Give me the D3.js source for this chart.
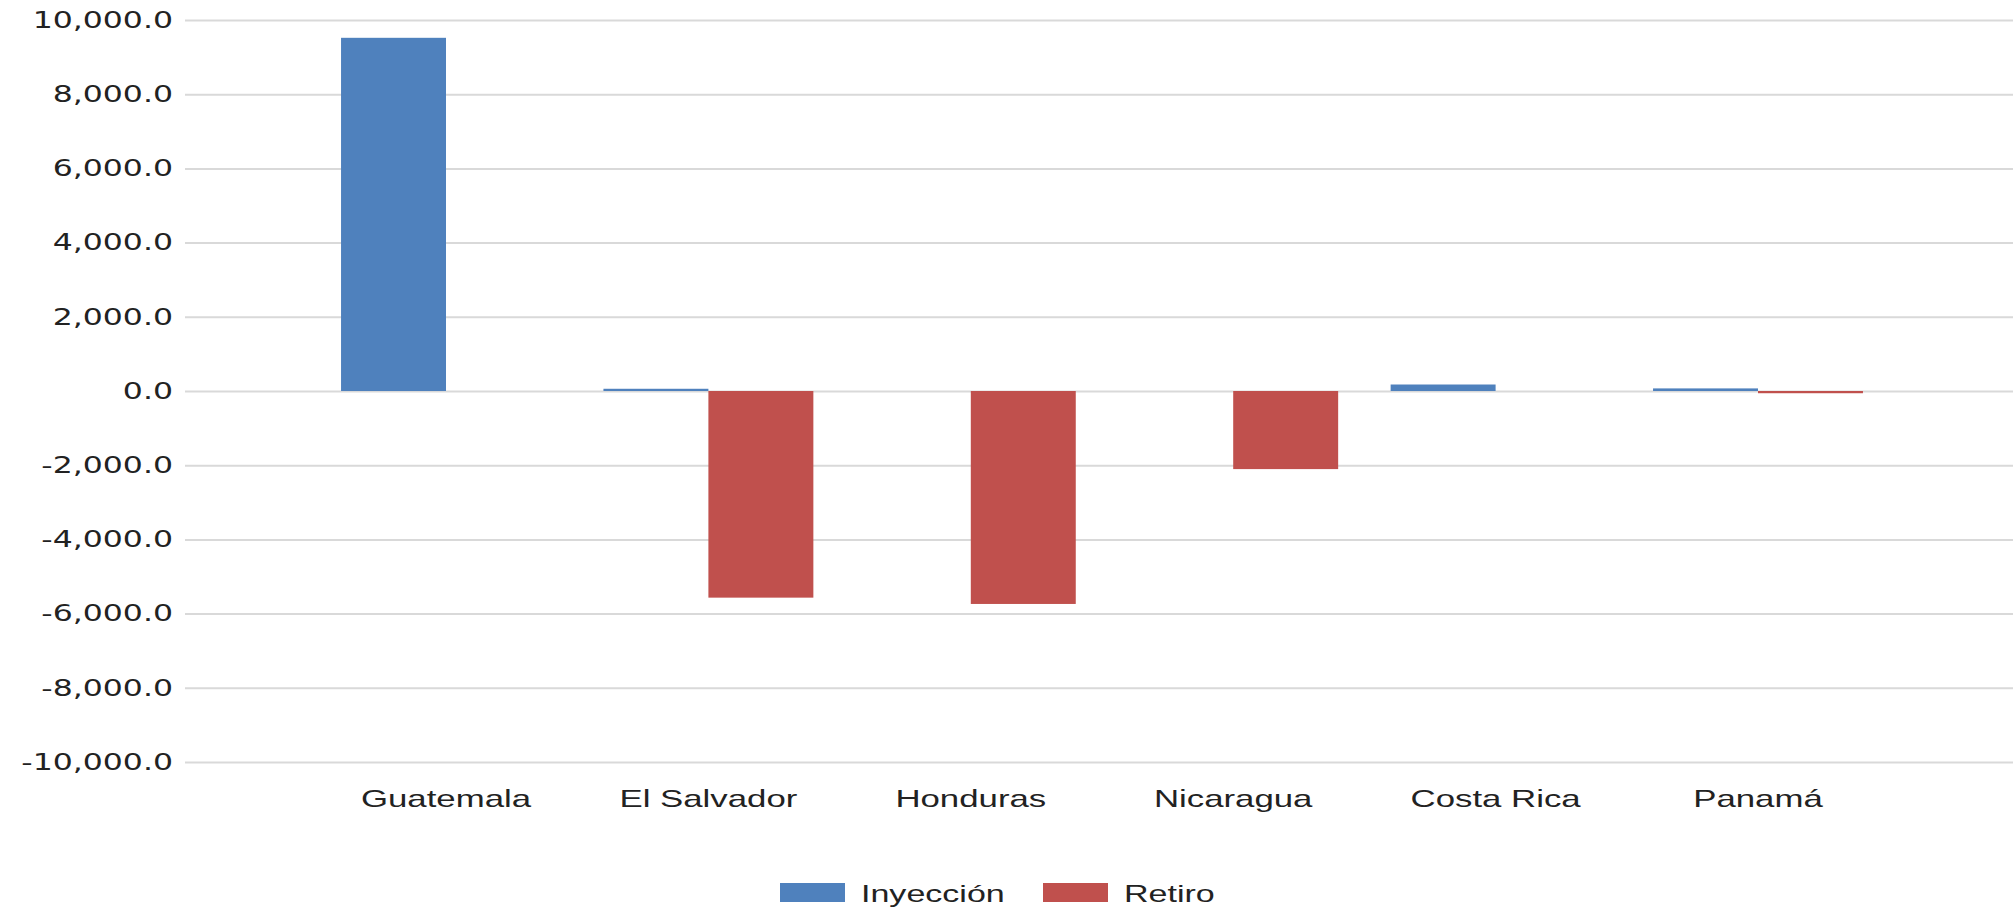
<!DOCTYPE html>
<html>
<head>
<meta charset="utf-8">
<script src="https://cdn.jsdelivr.net/npm/d3@7"></script>
<style>
  body { margin: 0; background: #fff; }
  svg { display: block; }
</style>
</head>
<body>
<div id="chart"></div>
<script>
// data
var countries = ["Guatemala", "El Salvador", "Honduras", "Nicaragua", "Costa Rica", "Panamá"];
var seriesNames = ["Inyección", "Retiro"];
var inyeccion = [9520, 60, 0, 0, 175, 70];
var retiro = [0, -5570, -5740, -2105, 0, -60];
var yTicks = [10000, 8000, 6000, 4000, 2000, 0, -2000, -4000, -6000, -8000, -10000];

var colors = ["#4F81BD", "#C0504D"];

var svgWidth = 2013;
var svgHeight = 908;

// the original picture is stretched sideways, so text gets a horizontal scale
var stretch = 1.37;

var svg = d3.select("#chart").append("svg")
  .attr("width", svgWidth)
  .attr("height", svgHeight);

var gridLeft = 185, gridRight = 2013;

var yScale = d3.scaleLinear()
  .domain([-10000, 10000])
  .range([762, 20]);

var xScale = d3.scaleBand()
  .domain(countries)
  .range([314.8, 1889.2])
  .paddingInner(0.2)
  .paddingOuter(0.1);

var xSub = d3.scaleBand()
  .domain(seriesNames)
  .range([0, xScale.bandwidth()]);

var fmt = d3.formatLocale({decimal: ".", thousands: ",", grouping: [3], currency: ["$", ""], minus: "-"}).format(",.1f");

// y axis with gridlines
var yAxis = svg.append("g")
  .attr("transform", `translate(${gridLeft},0)`)
  .call(d3.axisLeft(yScale)
    .tickValues(yTicks)
    .tickSize(-(gridRight - gridLeft))
    .tickPadding(8.8)
    .tickFormat(fmt));

yAxis.select(".domain").remove();
yAxis.selectAll(".tick line")
  .attr("stroke", "#d9d9d9")
  .attr("stroke-width", 2);
yAxis.selectAll(".tick text")
  .attr("transform", `scale(${stretch},1)`)
  .attr("fill", "#222")
  .style("font-family", "DejaVu Sans")
  .style("font-size", "23px");

// bars
var rows = countries.map((c, i) => ({country: c, values: [inyeccion[i], retiro[i]]}));

var groups = svg.selectAll(".country")
  .data(rows)
  .enter()
  .append("g")
  .attr("class", "country")
  .attr("transform", d => `translate(${xScale(d.country)},0)`);

groups.selectAll("rect")
  .data(d => d.values.map((v, j) => ({name: seriesNames[j], value: v, j: j})))
  .enter()
  .filter(d => d.value !== 0)
  .append("rect")
  .attr("x", d => xSub(d.name))
  .attr("width", xSub.bandwidth())
  .attr("y", d => yScale(Math.max(0, d.value)))
  .attr("height", d => Math.abs(yScale(d.value) - yScale(0)))
  .attr("fill", d => colors[d.j]);

// category labels
var xAxis = svg.append("g")
  .attr("transform", `translate(0,${yScale(-10000)})`)
  .call(d3.axisBottom(xScale).tickSize(0));

xAxis.select(".domain").remove();
xAxis.selectAll(".tick text")
  .attr("y", 45)
  .attr("dy", 0)
  .attr("transform", `scale(1.45,1)`)
  .attr("fill", "#222")
  .style("font-family", "Liberation Sans")
  .style("font-size", "24px");

// legend
var legendX = [780, 1043];
var legend = svg.selectAll(".legend")
  .data(seriesNames)
  .enter()
  .append("g")
  .attr("class", "legend")
  .attr("transform", (d, i) => `translate(${legendX[i]},883)`);

legend.append("rect")
  .attr("width", 65)
  .attr("height", 19)
  .attr("fill", (d, i) => colors[i]);

legend.append("text")
  .attr("transform", "translate(81,19) scale(1.48,1)")
  .attr("fill", "#222")
  .style("font-family", "Liberation Sans")
  .style("font-size", "23px")
  .text(d => d);
</script>
</body>
</html>
